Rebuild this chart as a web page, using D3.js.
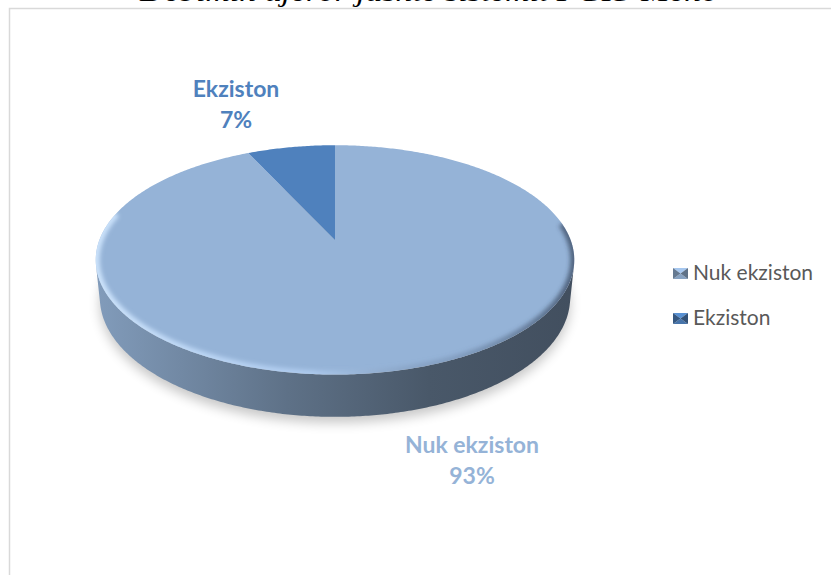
<!DOCTYPE html>
<html>
<head>
<meta charset="utf-8">
<script src="https://cdn.jsdelivr.net/npm/d3@7"></script>
<style>
  html, body { margin: 0; padding: 0; background: #ffffff; }
  svg { display: block; }
</style>
</head>
<body>
<svg id="chart" width="831" height="575"></svg>
<script>
// ---- data ----
const titleText = "Dëbimin ujëror jashtë sistemit PGIS-Meno";
const categories = ["Nuk ekziston", "Ekziston"];
const values = [93, 7];
const sliceColors = ["#95b3d7", "#4f81bd"];
const labelColors = ["#95b3d7", "#4f81bd"];

// ---- layout ----
const W = 831, H = 575;
const svg = d3.select("#chart");
const defs = svg.append("defs");

// perspective projection of a unit disc
const cx = 335, cy = 240, K = 1197, Dcam = 5.08, ca = 0.881, sa = 0.472, T = 0.183;
function proj(th, Y, r = 1) {
  const X = r * Math.sin(th), Z = r * Math.cos(th);
  const xv = X, yv = Y * ca + Z * sa, zv = Dcam + Z * ca - Y * sa;
  return [cx + K * xv / zv, cy - K * yv / zv];
}
function arcPts(a0, a1, Y) {
  const n = Math.max(2, Math.ceil((a1 - a0) / 0.01));
  return d3.range(n + 1).map(i => proj(a0 + (a1 - a0) * i / n, Y));
}
const line = d3.line();

// title (clipped at top of page)
svg.append("text")
  .attr("x", 429).attr("y", 1)
  .attr("text-anchor", "middle")
  .attr("font-family", "Liberation Serif, Times New Roman, serif")
  .attr("font-style", "italic")
  .attr("font-size", 28)
  .attr("textLength", 578)
  .attr("lengthAdjust", "spacingAndGlyphs")
  .attr("fill", "#000")
  .text(titleText);

// chart area border
svg.append("rect")
  .attr("x", 9.5).attr("y", 8.5).attr("width", 900).attr("height", 700)
  .attr("fill", "none").attr("stroke", "#d9d9d9").attr("stroke-width", 1.5);

const pie = d3.pie().sort(null).value(d => d.v);
const data = pie(categories.map((c, i) => ({ c, v: values[i], i })));

// filters
const blur = defs.append("filter").attr("id", "shadowBlur")
  .attr("x", "-20%").attr("y", "-20%").attr("width", "140%").attr("height", "140%");
blur.append("feGaussianBlur").attr("stdDeviation", 6);
const bevBlur = defs.append("filter").attr("id", "bevBlur")
  .attr("x", "-10%").attr("y", "-10%").attr("width", "120%").attr("height", "120%");
bevBlur.append("feGaussianBlur").attr("stdDeviation", 2.2);

// shadow
const bottomOutline = arcPts(0, 2 * Math.PI, -T);
svg.append("path")
  .attr("d", line(bottomOutline.map(p => [p[0], p[1] + 6])) + "Z")
  .attr("fill", "#000").attr("opacity", 0.22)
  .attr("filter", "url(#shadowBlur)");

// side walls
const thVis = Math.acos(-1 / (Dcam * ca));
const xL = proj(3 * Math.PI / 2, 0)[0], xR = proj(Math.PI / 2, 0)[0];
data.forEach((d, i) => {
  const a0 = Math.max(d.startAngle, thVis), a1 = Math.min(d.endAngle, 2 * Math.PI - thVis);
  if (a1 <= a0) return;
  const base = d3.color(sliceColors[i]);
  const g = defs.append("linearGradient").attr("id", "side" + i)
    .attr("gradientUnits", "userSpaceOnUse")
    .attr("x1", xL).attr("x2", xR).attr("y1", 0).attr("y2", 0);
  g.append("stop").attr("offset", 0).attr("stop-color", base.darker(0.4));
  g.append("stop").attr("offset", 0.4).attr("stop-color", base.darker(1.3));
  g.append("stop").attr("offset", 0.7).attr("stop-color", base.darker(2.0));
  g.append("stop").attr("offset", 1).attr("stop-color", base.darker(2.3));
  const pts = arcPts(a0, a1, 0).concat(arcPts(a0, a1, -T).reverse());
  svg.append("path").attr("d", line(pts) + "Z").attr("fill", `url(#side${i})`);
});

// top face slices
const topOutline = arcPts(0, 2 * Math.PI, 0);
defs.append("clipPath").attr("id", "topClip")
  .append("path").attr("d", line(topOutline) + "Z");
data.forEach((d, i) => {
  const pts = [proj(0, 0, 0)].concat(arcPts(d.startAngle, d.endAngle, 0));
  svg.append("path").attr("d", line(pts) + "Z").attr("fill", sliceColors[i]);
});

// bevel along the front top rim
const bg = defs.append("linearGradient").attr("id", "bevel")
  .attr("gradientUnits", "userSpaceOnUse")
  .attr("x1", xL).attr("x2", xR).attr("y1", 0).attr("y2", 0);
bg.append("stop").attr("offset", 0).attr("stop-color", "#d2e8ff").attr("stop-opacity", 0.9);
bg.append("stop").attr("offset", 0.45).attr("stop-color", "#c0dcff").attr("stop-opacity", 0.55);
bg.append("stop").attr("offset", 0.75).attr("stop-color", "#5a6f8c").attr("stop-opacity", 0.3);
bg.append("stop").attr("offset", 1).attr("stop-color", "#34435a").attr("stop-opacity", 0.7);
svg.append("g").attr("clip-path", "url(#topClip)")
  .append("path")
  .attr("d", line(arcPts(Math.PI / 2 - 0.15, 3 * Math.PI / 2 + 0.25, 0)))
  .attr("fill", "none").attr("stroke", "url(#bevel)").attr("stroke-width", 8)
  .attr("filter", "url(#bevBlur)");

// data labels
const labelPos = { "Ekziston": [236, 97], "Nuk ekziston": [472, 453] };
data.forEach((d, i) => {
  const [lx, ly] = labelPos[d.data.c];
  const t = svg.append("text")
    .attr("text-anchor", "middle")
    .attr("font-family", "Lato, 'Open Sans', sans-serif")
    .attr("font-weight", "bold")
    .attr("font-size", 23)
    .attr("fill", labelColors[i]);
  t.append("tspan").attr("x", lx).attr("y", ly).text(d.data.c);
  t.append("tspan").attr("x", lx).attr("y", ly + 31)
    .text(Math.round(d.data.v / d3.sum(values) * 100) + "%");
});

// legend
const legend = svg.append("g");
categories.forEach((c, i) => {
  const y = 280 + i * 45;
  const base = d3.color(sliceColors[i]);
  const x0 = 673, x1 = 688, y0 = y - 12, y1 = y - 1, mx = (x0 + x1) / 2, my = (y0 + y1) / 2;
  const g = legend.append("g");
  g.append("path").attr("d", `M${x0},${y0}L${x1},${y0}L${mx},${my}Z`).attr("fill", base.brighter(0.3));
  g.append("path").attr("d", `M${x0},${y1}L${x1},${y1}L${mx},${my}Z`).attr("fill", base.darker(0.3));
  g.append("path").attr("d", `M${x0},${y0}L${x0},${y1}L${mx},${my}Z`).attr("fill", base.darker(1.1));
  g.append("path").attr("d", `M${x1},${y0}L${x1},${y1}L${mx},${my}Z`).attr("fill", base.darker(1.3));
  legend.append("text")
    .attr("x", 693).attr("y", y)
    .attr("font-family", "Lato, 'Open Sans', sans-serif")
    .attr("font-size", 21)
    .attr("fill", "#595959")
    .text(c);
});
</script>
</body>
</html>
